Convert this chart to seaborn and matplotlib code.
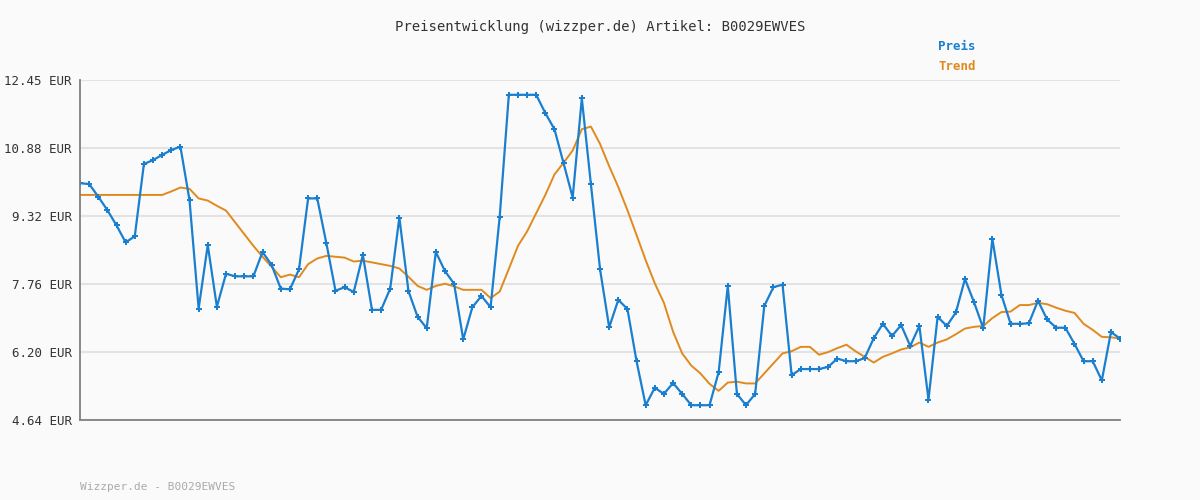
import matplotlib
matplotlib.use("Agg")
import matplotlib.pyplot as plt
import numpy as np
import pandas as pd
import seaborn as sns

sns.set_theme(style="white")
plt.rcParams['font.family'] = ['DejaVu Sans Mono', 'DejaVu Sans']

# Price history
preis = [10.08, 10.06, 9.77, 9.46, 9.11, 8.72, 8.86, 10.52, 10.61, 10.73,
         10.84, 10.92, 9.69, 7.20, 8.66, 7.24, 8.00, 7.94, 7.94, 7.94,
         8.50, 8.20, 7.66, 7.64, 8.10, 9.73, 9.73, 8.70, 7.61, 7.69,
         7.58, 8.43, 7.17, 7.17, 7.66, 9.29, 7.60, 7.01, 6.75, 8.50,
         8.06, 7.77, 6.49, 7.23, 7.49, 7.23, 9.31, 12.11, 12.11, 12.11,
         12.11, 11.69, 11.32, 10.54, 9.75, 12.03, 10.05, 8.10, 6.77, 7.40,
         7.19, 5.99, 4.98, 5.38, 5.24, 5.49, 5.24, 4.98, 4.98, 4.98,
         5.74, 7.72, 5.24, 4.98, 5.24, 7.26, 7.69, 7.75, 5.67, 5.81,
         5.81, 5.81, 5.86, 6.05, 5.99, 5.99, 6.06, 6.52, 6.85, 6.57,
         6.82, 6.34, 6.80, 5.11, 7.01, 6.80, 7.11, 7.88, 7.34, 6.75,
         8.80, 7.51, 6.85, 6.85, 6.86, 7.38, 6.95, 6.76, 6.76, 6.39,
         5.99, 5.99, 5.55, 6.66, 6.51]

trend = [9.81, 9.81, 9.81, 9.81, 9.81, 9.81, 9.81, 9.81, 9.81, 9.81,
         9.89, 9.98, 9.95, 9.73, 9.68, 9.56, 9.45, 9.18, 8.91, 8.64,
         8.39, 8.16, 7.92, 7.98, 7.92, 8.22, 8.35, 8.41, 8.39, 8.37,
         8.28, 8.30, 8.26, 8.22, 8.18, 8.12, 7.93, 7.72, 7.63, 7.72,
         7.77, 7.71, 7.63, 7.63, 7.63, 7.44, 7.59, 8.11, 8.64, 8.97,
         9.39, 9.81, 10.28, 10.55, 10.83, 11.32, 11.38, 10.98, 10.47, 9.99,
         9.46, 8.89, 8.31, 7.78, 7.33, 6.67, 6.17, 5.89, 5.71, 5.47,
         5.31, 5.50, 5.52, 5.48, 5.48, 5.71, 5.94, 6.17, 6.22, 6.32,
         6.32, 6.14, 6.20, 6.29, 6.37, 6.22, 6.09, 5.96, 6.09, 6.17,
         6.26, 6.31, 6.42, 6.32, 6.42, 6.49, 6.61, 6.74, 6.78, 6.80,
         6.98, 7.12, 7.13, 7.28, 7.28, 7.33, 7.30, 7.22, 7.15, 7.10,
         6.85, 6.71, 6.55, 6.54, 6.51]

y_ticks = [4.64, 6.20, 7.76, 9.32, 10.88, 12.45]

df = pd.DataFrame({'idx': np.arange(len(preis)), 'Preis': preis, 'Trend': trend})

bg = '#fafafa'
blue = '#1a7fcf'
orange = '#e08a1e'

fig = plt.figure(figsize=(12, 5), dpi=100, facecolor=bg)
ax = fig.add_axes([0.0667, 0.16, 0.8667, 0.68], facecolor=bg)

sns.lineplot(data=df, x='idx', y='Trend', ax=ax, color=orange, linewidth=1.4)
sns.lineplot(data=df, x='idx', y='Preis', ax=ax, color=blue, linewidth=1.6,
             marker='P', markersize=4, markeredgewidth=0)

ax.set_xlim(0, len(preis) - 1)
ax.set_ylim(y_ticks[0], y_ticks[-1])
ax.set_yticks(y_ticks)
ax.set_yticklabels([f'{v:.2f} EUR' for v in y_ticks], fontsize=9, color='#333333')
ax.set_xticks([])
ax.set_xlabel('')
ax.set_ylabel('')
ax.tick_params(axis='y', length=4, color='#888888', pad=2)
ax.grid(axis='y', color='#e3e3e3', linewidth=1.5)
for s in ['top', 'right']:
    ax.spines[s].set_visible(False)
for s in ['left', 'bottom']:
    ax.spines[s].set_color('#808080')
    ax.spines[s].set_linewidth(1.3)

fig.text(0.5, 0.945, 'Preisentwicklung (wizzper.de) Artikel: B0029EWVES',
         ha='center', va='center', fontsize=10, color='#333333')
fig.text(0.782, 0.907, 'Preis', color=blue, fontsize=9, fontweight='bold', va='center')
fig.text(0.782, 0.866, 'Trend', color=orange, fontsize=9, fontweight='bold', va='center')
fig.text(0.0667, 0.027, 'Wizzper.de - B0029EWVES', color='#aaaaaa', fontsize=8,
         va='center')

fig.savefig('out.png', dpi=100, facecolor=bg)
